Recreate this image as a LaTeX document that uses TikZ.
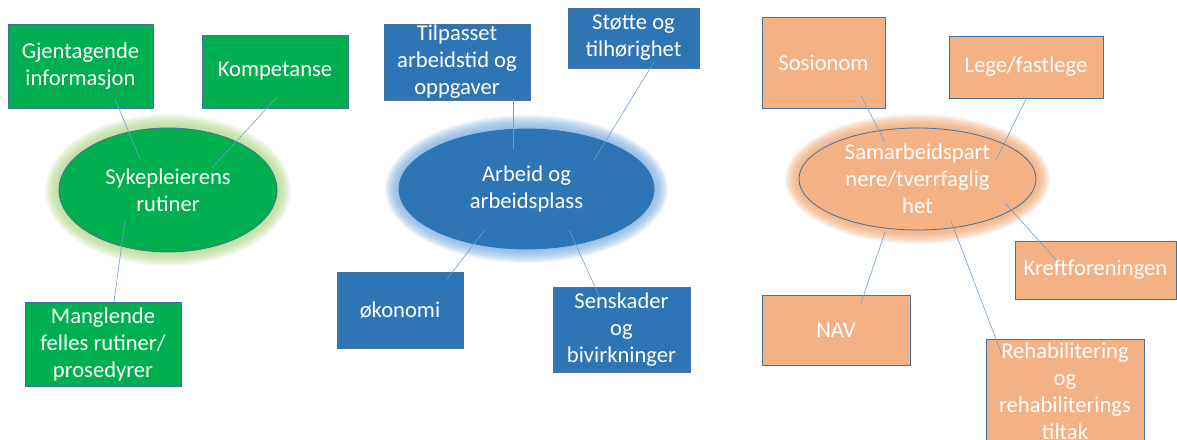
\documentclass[tikz,border=0pt]{standalone}
\usepackage{fontspec}
\setmainfont{Carlito}
\usetikzlibrary{calc,shapes.geometric}
\definecolor{grn}{HTML}{00B050}
\definecolor{blu}{HTML}{2E75B6}
\definecolor{org}{HTML}{F4B183}
\definecolor{edge}{HTML}{41719C}
\definecolor{linkc}{HTML}{6F9FD3}
\definecolor{glowg}{HTML}{B5DB8E}
\definecolor{glowb}{HTML}{7FB0E3}
\definecolor{glowo}{HTML}{F4A66E}
\tikzset{
  box/.style={draw=edge, line width=0.8pt, fill=#1, rectangle, inner sep=0pt},
  hub/.style={draw=edge, line width=0.8pt, fill=#1, ellipse, inner sep=0pt},
  txt/.style={text=white, align=center, inner sep=0pt, font={\fontsize{22.6}{27}\selectfont}},
  link/.style={draw=linkc, line width=0.6pt},
}
% soft halo around an ellipse: stacked translucent rings
\newcommand{\halo}[5]{%
  \foreach \k in {1,...,14}{%
    \fill[#5, opacity=0.10] (#1,#2) ellipse [x radius={#3/2+\k}, y radius={#4/2+\k}];
  }%
}
\begin{document}
\begin{tikzpicture}[x=1pt,y=-1pt]
\useasboundingbox (0,0) rectangle (1177,439);
\fill[white] (0,0) rectangle (1177,439);

% ---------- halos ----------
\halo{168}{190}{218}{124}{glowg}
\halo{526.5}{189}{255}{120}{glowb}
\halo{917.5}{179}{237}{102}{glowo}

% ---------- left group ----------
\node[hub=grn, minimum width=218pt, minimum height=124pt] (gre) at (168,190) {};
\node[box=grn, minimum width=145pt, minimum height=84pt] (gj) at (80.5,66) {};
\node[box=grn, minimum width=146pt, minimum height=73pt] (komp) at (275,71.5) {};
\node[box=grn, minimum width=156pt, minimum height=84pt] (mang) at (103,344) {};

% ---------- middle group ----------
\node[hub=blu, draw=blu, minimum width=255pt, minimum height=120pt] (ble) at (526.5,189) {};
\node[box=blu, minimum width=146pt, minimum height=76pt] (tilp) at (457,62) {};
\node[box=blu, minimum width=131pt, minimum height=60pt] (stot) at (633.5,38) {};
\node[box=blu, minimum width=126pt, minimum height=76pt] (ekon) at (400,310) {};
\node[box=blu, minimum width=137pt, minimum height=85pt] (sens) at (621.5,329.5) {};

% ---------- right group ----------
\node[hub=org, minimum width=237pt, minimum height=102pt] (ore) at (917.5,179) {};
\node[box=org, minimum width=123pt, minimum height=91pt] (sos) at (823.5,62.5) {};
\node[box=org, minimum width=154pt, minimum height=62pt] (lege) at (1026,67) {};
\node[box=org, minimum width=161pt, minimum height=58pt] (kreft) at (1095.5,270) {};
\node[box=org, minimum width=148pt, minimum height=70pt] (nav) at (836,330) {};
\node[box=org, minimum width=158pt, minimum height=104pt] (rehab) at (1065,391) {};

% ---------- connectors ----------
\draw[link] ($(gj)+(34.5,33)$) -- ($(gre)+(-28,-31)$);
\draw[link] ($(komp)+(2,25.5)$) -- ($(gre)+(44,-22)$);
\draw[link] ($(mang)+(11,-42)$) -- ($(gre)+(-43,30)$);

\draw[link] ($(tilp)+(56,37)$) -- ($(ble)+(-13.5,-40)$);
\draw[link] ($(stot)+(20.5,24)$) -- ($(ble)+(67.5,-29)$);
\draw[link] ($(ekon)+(47,-31)$) -- ($(ble)+(-42.5,42)$);
\draw[link] ($(sens)+(-20.5,-29.5)$) -- ($(ble)+(42.5,41)$);

\draw[link] ($(sos)+(37.5,33.5)$) -- ($(ore)+(-32.5,-37)$);
\draw[link] ($(lege)+(0,32)$) -- ($(ore)+(78.5,-19)$);
\draw[link] ($(kreft)+(-37.5,-8)$) -- ($(ore)+(87.5,24)$);
\draw[link] ($(nav)+(25,-27)$) -- ($(ore)+(-32.5,53)$);
\draw[link] ($(rehab)+(-63,-36)$) -- ($(ore)+(33.5,42)$);

% ---------- texts ----------
\node[txt] (gret) at (gre) {Sykepleierens\\rutiner};
\node[txt] (gjt) at (gj) {Gjentagende\\informasjon};
\node[txt] (kompt) at (komp) {Kompetanse};
\node[txt] (mangt) at (mang) {Manglende\\felles rutiner/\\prosedyrer};

\node[txt] (blet) at (ble) {Arbeid og\\arbeidsplass};
\node[txt] (tilpt) at (tilp) {Tilpasset\\arbeidstid og\\oppgaver};
\node[txt] (stott) at (stot) {Støtte og\\tilhørighet};
\node[txt] (ekont) at (ekon) {økonomi};
\node[txt] (senst) at (sens) {Senskader\\og\\bivirkninger};

\node[txt] (oret) at (ore) {Samarbeidspart\\nere/tverrfaglig\\het};
\node[txt] (sost) at (sos) {Sosionom};
\node[txt] (leget) at (lege) {Lege/fastlege};
\node[txt] (kreftt) at (kreft) {Kreftforeningen};
\node[txt] (navt) at (nav) {NAV};
\node[txt] (rehabt) at (rehab) {Rehabilitering\\og\\rehabiliterings\\tiltak};
\end{tikzpicture}
\end{document}
